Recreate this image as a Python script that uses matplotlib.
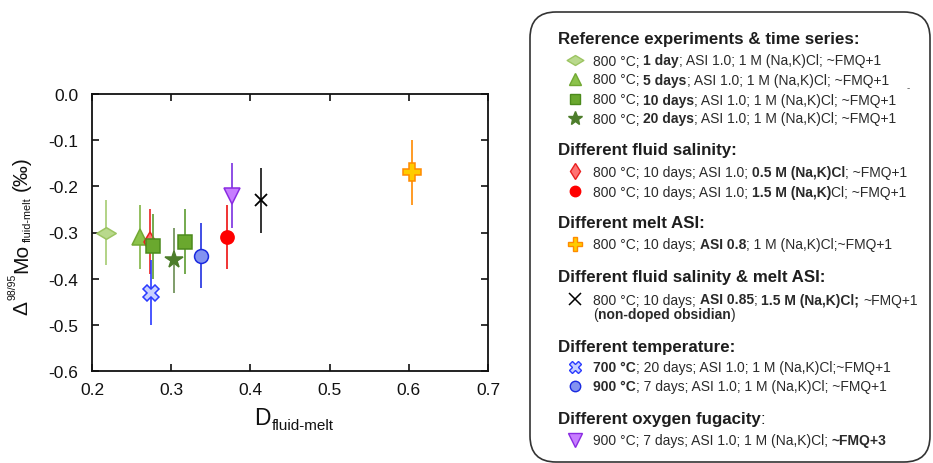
import matplotlib
matplotlib.use('Agg')
import matplotlib.pyplot as plt
from matplotlib.path import Path
from matplotlib.patches import FancyBboxPatch
from matplotlib.font_manager import FontProperties

plt.rcParams['font.family'] = ['Liberation Sans', 'DejaVu Sans']
plt.rcParams['axes.unicode_minus'] = False

# --- data ---
d_fluid_melt = [0.218, 0.260, 0.273, 0.277, 0.275, 0.304, 0.318, 0.337, 0.370, 0.377, 0.414, 0.604]
delta_mo = [-0.30, -0.31, -0.32, -0.33, -0.43, -0.36, -0.32, -0.35, -0.31, -0.22, -0.23, -0.17]
delta_err = [0.07, 0.07, 0.07, 0.07, 0.07, 0.07, 0.07, 0.07, 0.07, 0.07, 0.07, 0.07]
point_group = ['1d', '5d', '05M', '10d', '700C', '20d', '10d', '900C', '15M', 'fmq3', 'asi085', 'asi08']

x_ticks = [0.2, 0.3, 0.4, 0.5, 0.6, 0.7]
y_ticks = [0.0, -0.1, -0.2, -0.3, -0.4, -0.5, -0.6]

wide_diamond = Path([(-1, 0), (0, 0.6), (1, 0), (0, -0.6), (-1, 0)],
                    [Path.MOVETO, Path.LINETO, Path.LINETO, Path.LINETO, Path.CLOSEPOLY])

# group -> marker, size (plot), size (legend), face, edge, errorbar colour
styles = {
    '1d':     (wide_diamond, 14, 12, '#b9d98c', '#9cc462', '#a6cc72'),
    '5d':     ('^', 11, 9, '#8cc34b', '#72a833', '#80b444'),
    '10d':    ('s', 9.5, 7.5, '#6aa82e', '#4c8a1c', '#5c9c30'),
    '20d':    ('*', 13, 10.5, '#4d7d2b', '#4d7d2b', '#6a8c50'),
    '05M':    ('d', 10, 8.5, '#ff7373', '#e82020', '#ea2222'),
    '15M':    ('o', 9.5, 7.5, '#ff0000', '#ff0000', '#ee1111'),
    'asi08':  ('P', 13, 9.5, '#ffcc00', '#ff8a00', '#ff8a00'),
    'asi085': ('x', 9, 8.5, 'none', '#000000', '#111111'),
    '700C':   ('X', 11, 8, '#c8d0ff', '#2a3aff', '#2a3aff'),
    '900C':   ('o', 10, 7.5, '#8393f0', '#1a2ae0', '#2030e0'),
    'fmq3':   ('v', 11, 10, '#c77dff', '#8a2be2', '#7a30e0'),
}

headings = [
    [('Reference experiments & time series:', True)],
    [('Different fluid salinity:', True)],
    [('Different melt ASI:', True)],
    [('Different fluid salinity & melt ASI:', True)],
    [('Different temperature:', True)],
    [('Different oxygen fugacity', True), (':', False)],
]
heading_y = [39, 150, 223, 277, 347, 419]

legend_groups = ['1d', '5d', '10d', '20d', '05M', '15M', 'asi08', 'asi085', '700C', '900C', 'fmq3']
legend_texts = [
    [('800 °C; ', False), ('1 day', True), ('; ASI 1.0; 1 M (Na,K)Cl; ~FMQ+1', False)],
    [('800 °C; ', False), ('5 days', True), ('; ASI 1.0; 1 M (Na,K)Cl; ~FMQ+1', False)],
    [('800 °C; ', False), ('10 days', True), ('; ASI 1.0; 1 M (Na,K)Cl; ~FMQ+1', False)],
    [('800 °C; ', False), ('20 days', True), ('; ASI 1.0; 1 M (Na,K)Cl; ~FMQ+1', False)],
    [('800 °C; 10 days; ASI 1.0; ', False), ('0.5 M (Na,K)Cl', True), ('; ~FMQ+1', False)],
    [('800 °C; 10 days; ASI 1.0; ', False), ('1.5 M (Na,K)', True), ('Cl; ~FMQ+1', False)],
    [('800 °C; 10 days; ', False), ('ASI 0.8', True), ('; 1 M (Na,K)Cl;~FMQ+1', False)],
    [('800 °C; 10 days; ', False), ('ASI 0.85', True), ('; ', False), ('1.5 M (Na,K)Cl;', True), (' ~FMQ+1', False)],
    [('700 °C', True), ('; 20 days; ASI 1.0; 1 M (Na,K)Cl;~FMQ+1', False)],
    [('900 °C', True), ('; 7 days; ASI 1.0; 1 M (Na,K)Cl; ~FMQ+1', False)],
    [('900 °C; 7 days; ASI 1.0; 1 M (Na,K)Cl; ', False), ('~FMQ+3', True)],
]
legend_y = [61, 80, 100, 119, 172, 192, 245, 300, 368, 387, 441]
extra_line = [('(', False), ('non-doped obsidian', True), (')', False)]

W, H = 933, 464
fig = plt.figure(figsize=(W / 100, H / 100), dpi=100)
ax = fig.add_axes([92 / W, 1 - 372 / H, (488 - 92) / W, (372 - 95) / H])

for i in range(len(d_fluid_melt)):
    m, ms, _, fc, ec, errc = styles[point_group[i]]
    ax.errorbar(d_fluid_melt[i], delta_mo[i], yerr=delta_err[i], fmt='none',
                ecolor=errc, elinewidth=1.2, capsize=0, zorder=2 + i * 0.1)
    if point_group[i] == 'asi085':
        ax.plot(d_fluid_melt[i], delta_mo[i], marker=m, ms=ms, color=ec, mew=1.3,
                ls='none', zorder=2.05 + i * 0.1)
    else:
        ax.plot(d_fluid_melt[i], delta_mo[i], marker=m, ms=ms, mfc=fc, mec=ec, mew=1.1,
                ls='none', zorder=2.05 + i * 0.1)

ax.set_xlim(0.2, 0.7)
ax.set_ylim(-0.6, 0.0)
ax.set_xticks(x_ticks)
ax.set_yticks(y_ticks)
ax.set_xticklabels(['%.1f' % v for v in x_ticks])
ax.set_yticklabels(['%.1f' % v if v != 0 else '0.0' for v in y_ticks])
ax.tick_params(direction='in', length=5, width=1.2, top=True, right=True,
               labelsize=12.5, colors='#111111')
ax.tick_params(axis='y', pad=10)
ax.tick_params(axis='x', pad=8)
for sp in ax.spines.values():
    sp.set_linewidth(1.3)
    sp.set_color('#111111')

# overlay in pixel coordinates (y up) for legend and axis labels
lax = fig.add_axes([0, 0, 1, 1], zorder=5)
lax.set_xlim(0, W)
lax.set_ylim(0, H)
lax.axis('off')
lax.patch.set_alpha(0)

renderer = fig.canvas.get_renderer()


def text_width(s, size, bold):
    fp = FontProperties(family=plt.rcParams['font.family'], size=size,
                        weight='bold' if bold else 'normal')
    w1 = renderer.get_text_width_height_descent('x' + s + 'x', fp, False)[0]
    w0 = renderer.get_text_width_height_descent('xx', fp, False)[0]
    return w1 - w0


def draw_runs(x, y, parts, size, color='#222222', rotated=False):
    for s, bold in parts:
        lead = s[:len(s) - len(s.lstrip())]
        off = text_width(lead, size, bold) if lead else 0
        if rotated:
            lax.text(x, y + off, s.strip(), fontsize=size, fontweight='bold' if bold else 'normal',
                     rotation=90, rotation_mode='anchor', ha='left', va='baseline', color=color)
            y += text_width(s, size, bold)
        else:
            lax.text(x + off, y, s.strip(), fontsize=size, fontweight='bold' if bold else 'normal',
                     ha='left', va='baseline', color=color)
            x += text_width(s, size, bold)
    return x, y


# legend box
box = FancyBboxPatch((530, H - 463), 400, 450, boxstyle='round,pad=0,rounding_size=26',
                     fc='none', ec='#333333', lw=1.2)
lax.add_patch(box)

for parts, yy in zip(headings, heading_y):
    draw_runs(558, H - yy - 5, parts, 12.2, '#1e1e1e')

for g, parts, yy in zip(legend_groups, legend_texts, legend_y):
    m, _, lms, fc, ec, _ = styles[g]
    if g == 'asi085':
        lax.plot(575, H - yy, marker=m, ms=lms, color=ec, mew=1.1, ls='none')
    else:
        lax.plot(575, H - yy, marker=m, ms=lms, mfc=fc, mec=ec, mew=1.0, ls='none')
    draw_runs(593, H - yy - 4.5, parts, 10, '#2a2a2a')
draw_runs(593, H - 315 - 4.5, extra_line, 10, '#2a2a2a')
lax.text(908, H - 88, '-', fontsize=7, color='#555555', ha='center', va='center')

# axis labels built from pieces
_, y = draw_runs(27, H - 315, [('Δ', False)], 15, '#111111', rotated=True)
_, y = draw_runs(15, y + 1, [('98/95', False)], 7.5, '#111111', rotated=True)
_, y = draw_runs(27, y + 1, [('Mo', False)], 15, '#111111', rotated=True)
_, y = draw_runs(30.5, y + 2, [('fluid-melt', False)], 7.8, '#111111', rotated=True)
draw_runs(27, y, [(' (‰)', False)], 15, '#111111', rotated=True)

x, _ = draw_runs(254, H - 425, [('D', False)], 16.5, '#111111')
draw_runs(x + 1, H - 430, [('fluid-melt', False)], 11, '#111111')

fig.savefig('out.png', dpi=100)
